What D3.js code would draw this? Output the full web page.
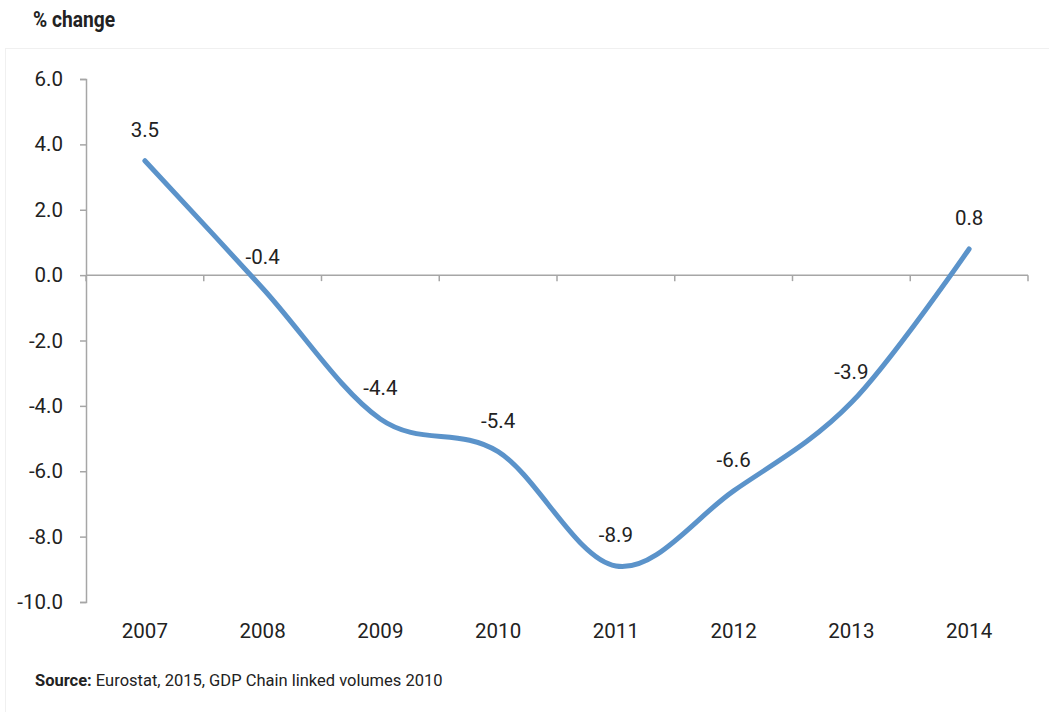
<!DOCTYPE html>
<html>
<head>
<meta charset="utf-8">
<script src="https://cdn.jsdelivr.net/npm/d3@7"></script>
<style>
  html, body { margin: 0; padding: 0; background: #fff; }
  svg { display: block; }
</style>
</head>
<body>
<svg id="chart" width="1049" height="712"></svg>
<script>
const years = ["2007", "2008", "2009", "2010", "2011", "2012", "2013", "2014"];
const values = [3.5, -0.4, -4.4, -5.4, -8.9, -6.6, -3.9, 0.8];
const yTicks = [6, 4, 2, 0, -2, -4, -6, -8, -10];
const titleText = "% change";
const sourceBold = "Source:";
const sourceText = " Eurostat, 2015, GDP Chain linked volumes 2010";

const W = 1049, H = 712;
const svg = d3.select("#chart");
const font = "'Roboto', 'Liberation Sans', sans-serif";
const axisColor = "#a6a6a6";
const labelSize = 20.5;

// faint frame
svg.append("rect")
  .attr("x", 5.5).attr("y", 48.5)
  .attr("width", W + 10).attr("height", H)
  .attr("fill", "none").attr("stroke", "#f0f0f0").attr("stroke-width", 1);

svg.append("text")
  .attr("x", 33).attr("y", 27)
  .attr("font-family", font).attr("font-weight", "bold")
  .attr("font-size", 22).attr("fill", "#222")
  .attr("textLength", 82).attr("lengthAdjust", "spacingAndGlyphs")
  .text(titleText);

const x = d3.scaleBand().domain(years).range([86, 1028]).padding(0);
const y = d3.scaleLinear().domain([-10, 6]).range([602, 79]);

// y axis
const yAxis = d3.axisLeft(y).tickValues(yTicks).tickSize(6).tickPadding(17)
  .tickFormat(d3.format(".1f"));
const gy = svg.append("g").attr("transform", "translate(86,0)").call(yAxis);
gy.select(".domain").attr("stroke", axisColor).attr("stroke-width", 1.5);
gy.selectAll(".tick line").attr("stroke", axisColor).attr("stroke-width", 1.5);
gy.selectAll(".tick text").attr("font-family", font).attr("font-size", labelSize)
  .attr("fill", "#222");
gy.selectAll(".tick text").filter(d => d < 0).text(d => "-" + Math.abs(d).toFixed(1));

// x axis at zero (tick marks at band edges), labels low
const zeroY = y(0);
const gx = svg.append("g");
gx.append("line")
  .attr("x1", 86).attr("x2", 1028).attr("y1", zeroY).attr("y2", zeroY)
  .attr("stroke", axisColor).attr("stroke-width", 1.5);
const edges = years.map(d => x(d) + x.bandwidth()).concat([86]);
gx.selectAll("line.tk").data(edges).enter().append("line")
  .attr("class", "tk")
  .attr("x1", d => d).attr("x2", d => d)
  .attr("y1", zeroY).attr("y2", zeroY + 6)
  .attr("stroke", axisColor).attr("stroke-width", 1.5);

svg.append("g").selectAll("text").data(years).enter().append("text")
  .attr("x", d => x(d) + x.bandwidth() / 2)
  .attr("y", 638)
  .attr("text-anchor", "middle")
  .attr("font-family", font).attr("font-size", labelSize).attr("fill", "#222")
  .text(d => d);

// line
const pts = years.map((d, i) => ({ year: d, v: values[i] }));
const line = d3.line()
  .x(d => x(d.year) + x.bandwidth() / 2)
  .y(d => y(d.v))
  .curve(d3.curveCatmullRom.alpha(0));
svg.append("path").datum(pts)
  .attr("d", line)
  .attr("fill", "none")
  .attr("stroke", "#5b93ca")
  .attr("stroke-width", 5)
  .attr("stroke-linecap", "round")
  .attr("stroke-linejoin", "round");

// data labels
svg.append("g").selectAll("text").data(pts).enter().append("text")
  .attr("x", d => x(d.year) + x.bandwidth() / 2)
  .attr("y", d => y(d.v) - 24)
  .attr("text-anchor", "middle")
  .attr("font-family", font).attr("font-size", labelSize).attr("fill", "#222")
  .text(d => d.v.toFixed(1));

// source
const src = svg.append("text")
  .attr("x", 35).attr("y", 686)
  .attr("font-family", font)
  .attr("font-size", 16.5).attr("fill", "#222");
src.append("tspan").attr("font-weight", "bold").text(sourceBold);
src.append("tspan").text(sourceText);
</script>
</body>
</html>
